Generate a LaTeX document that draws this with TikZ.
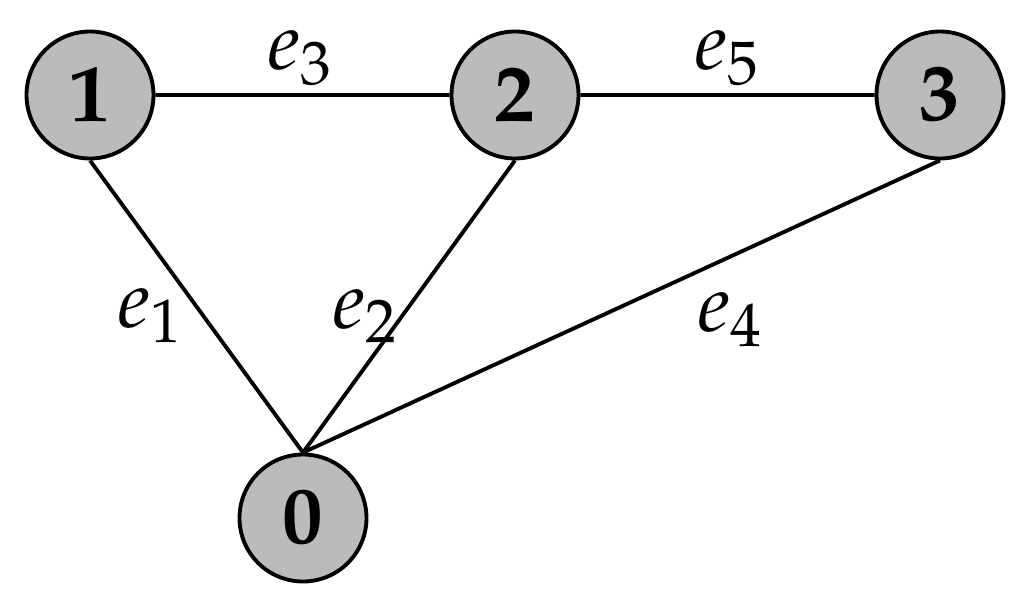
\documentclass[tikz,border=0pt]{standalone}
\usepackage{mathpazo}
\definecolor{vertgray}{HTML}{BBBBBB}

\begin{document}
\begin{tikzpicture}[line width=1.1pt,
	vert/.style={circle, draw, fill=vertgray, minimum size=1.27cm, inner sep=0pt, font=\fontsize{23}{28}\selectfont},
	elabel/.style={font=\fontsize{23}{28}\selectfont, inner sep=0pt}]
	\useasboundingbox (0,0) rectangle (10.27,6.08);
	\node[vert] (v1) at (0.90,5.13) {$\mathbf{1}$};
	\node[vert] (v2) at (5.15,5.13) {$\mathbf{2}$};
	\node[vert] (v3) at (9.40,5.13) {$\mathbf{3}$};
	\node[vert] (v0) at (3.03,0.90) {$\mathbf{0}$};
	\draw (v1.east) -- (v2.west)
	(v2.east) -- (v3.west)
	(v1.south) -- (v0.north)
	(v2.south) -- (v0.north)
	(v3.south) -- (v0.north);
	\node[elabel] (l3) at (3.00,5.50) {$e_3$};
	\node[elabel] (l5) at (7.27,5.50) {$e_5$};
	\node[elabel] (l1) at (1.50,2.92) {$e_1$};
	\node[elabel] (l2) at (3.65,2.92) {$e_2$};
	\node[elabel] (l4) at (7.30,2.88) {$e_4$};
\end{tikzpicture}
\end{document}
